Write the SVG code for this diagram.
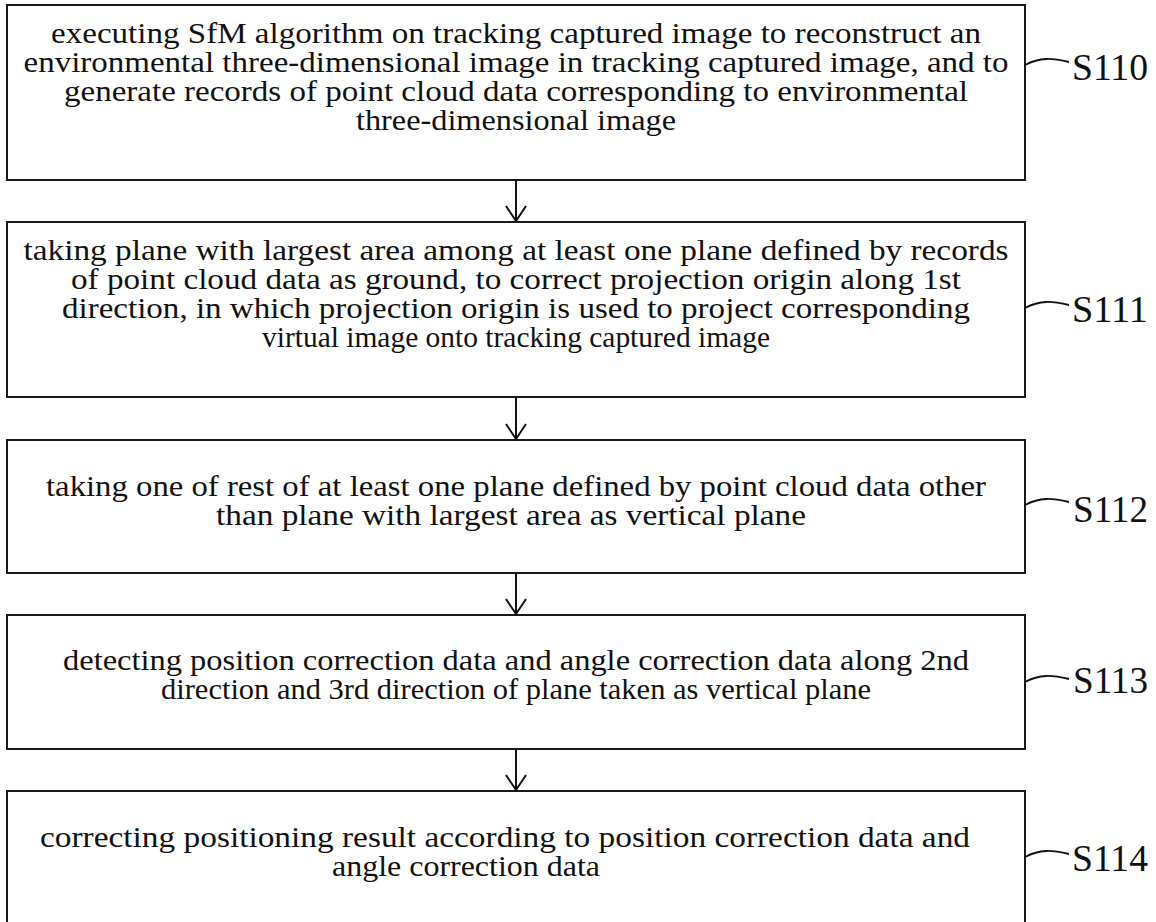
<svg xmlns="http://www.w3.org/2000/svg" width="1156" height="922" viewBox="0 0 1156 922">
<style>
.box{fill:none;stroke:#1a1a1a;stroke-width:2}
.t{font-family:"Liberation Serif","Times New Roman",serif;font-size:29px;fill:#111;text-anchor:middle}
.lbl{font-family:"Liberation Serif","Times New Roman",serif;font-size:38px;fill:#111}
.conn{fill:none;stroke:#111;stroke-width:2}
.lead{fill:none;stroke:#111;stroke-width:1.8}
</style>
<defs>
<marker id="ah" markerWidth="24" markerHeight="24" refX="16" refY="12" orient="auto" markerUnits="userSpaceOnUse" viewBox="0 0 24 24">
<path d="M1,2 L16,12 L1,22" fill="none" stroke="#111" stroke-width="2"/>
</marker>
</defs>
<rect width="1156" height="922" fill="#fff"/>
<g id="S110">
<rect class="box" x="7" y="5" width="1018" height="175"/>
<text class="t"><tspan x="516" y="43" textLength="930" lengthAdjust="spacingAndGlyphs">executing SfM algorithm on tracking captured image to reconstruct an</tspan><tspan x="516" y="72" textLength="985" lengthAdjust="spacingAndGlyphs">environmental three-dimensional image in tracking captured image, and to</tspan><tspan x="516" y="101" textLength="904" lengthAdjust="spacingAndGlyphs">generate records of point cloud data corresponding to environmental</tspan><tspan x="516" y="130" textLength="320" lengthAdjust="spacingAndGlyphs">three-dimensional image</tspan></text>
<path class="lead" d="M1025,65 C1040,57 1052,58 1069,62"/>
<text class="lbl" x="1072" y="80" textLength="76" lengthAdjust="spacingAndGlyphs">S110</text>
</g>
<g id="S111">
<rect class="box" x="7" y="222" width="1018" height="175"/>
<text class="t"><tspan x="516" y="260" textLength="985" lengthAdjust="spacingAndGlyphs">taking plane with largest area among at least one plane defined by records</tspan><tspan x="516" y="289" textLength="890" lengthAdjust="spacingAndGlyphs">of point cloud data as ground, to correct projection origin along 1st</tspan><tspan x="516" y="318" textLength="908" lengthAdjust="spacingAndGlyphs">direction, in which projection origin is used to project corresponding</tspan><tspan x="516" y="347" textLength="508" lengthAdjust="spacingAndGlyphs">virtual image onto tracking captured image</tspan></text>
<path class="lead" d="M1025,308 C1040,300 1052,301 1069,305"/>
<text class="lbl" x="1072" y="322" textLength="76" lengthAdjust="spacingAndGlyphs">S111</text>
</g>
<g id="S112">
<rect class="box" x="7" y="440" width="1018" height="133"/>
<text class="t"><tspan x="516" y="496" textLength="940" lengthAdjust="spacingAndGlyphs">taking one of rest of at least one plane defined by point cloud data other</tspan><tspan x="511" y="525" textLength="590" lengthAdjust="spacingAndGlyphs">than plane with largest area as vertical plane</tspan></text>
<path class="lead" d="M1025,505 C1040,497 1052,498 1069,502"/>
<text class="lbl" x="1073" y="522" textLength="75" lengthAdjust="spacingAndGlyphs">S112</text>
</g>
<g id="S113">
<rect class="box" x="7" y="615" width="1018" height="134"/>
<text class="t"><tspan x="516" y="670" textLength="906" lengthAdjust="spacingAndGlyphs">detecting position correction data and angle correction data along 2nd</tspan><tspan x="516" y="699" textLength="710" lengthAdjust="spacingAndGlyphs">direction and 3rd direction of plane taken as vertical plane</tspan></text>
<path class="lead" d="M1025,682 C1040,674 1052,675 1069,679"/>
<text class="lbl" x="1073" y="693" textLength="75" lengthAdjust="spacingAndGlyphs">S113</text>
</g>
<g id="S114">
<rect class="box" x="7" y="791" width="1018" height="134"/>
<text class="t"><tspan x="505" y="847" textLength="930" lengthAdjust="spacingAndGlyphs">correcting positioning result according to position correction data and</tspan><tspan x="466" y="876" textLength="268" lengthAdjust="spacingAndGlyphs">angle correction data</tspan></text>
<path class="lead" d="M1025,857 C1040,849 1052,850 1069,854"/>
<text class="lbl" x="1072" y="871" textLength="76" lengthAdjust="spacingAndGlyphs">S114</text>
</g>
<g id="connectors">
<path class="conn" d="M516,180 V221" marker-end="url(#ah)"/>
<path class="conn" d="M516,397 V439" marker-end="url(#ah)"/>
<path class="conn" d="M516,573 V614" marker-end="url(#ah)"/>
<path class="conn" d="M516,749 V790" marker-end="url(#ah)"/>
</g>
</svg>
